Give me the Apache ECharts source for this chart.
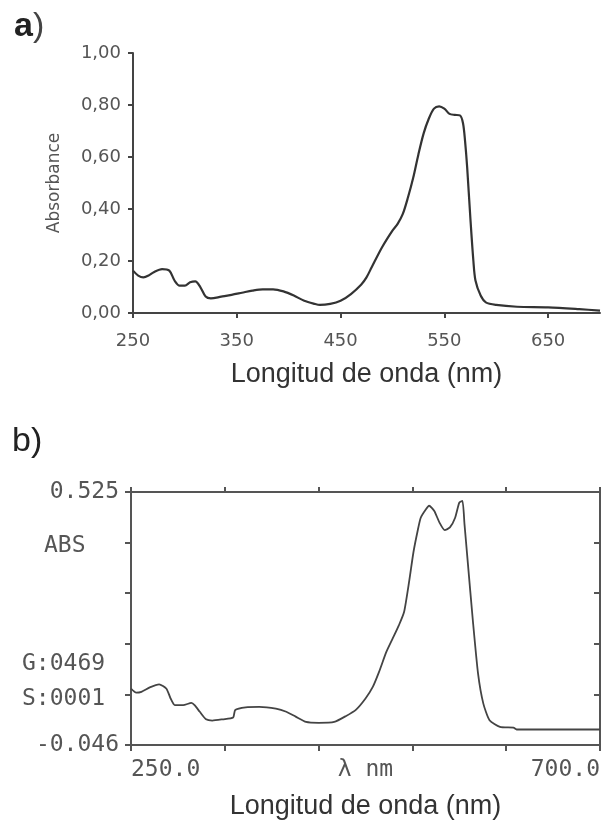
<!DOCTYPE html>
<html>
<head>
<meta charset="utf-8">
<script src="https://cdn.jsdelivr.net/npm/echarts@6/dist/echarts.min.js"></script>
<style>html,body{margin:0;padding:0;background:#fff;}#c{width:613px;height:822px;}</style>
</head>
<body>
<div id="c"></div>
<script>
// Panel a
var aWavelength = [250,255,260,265,270,278,285,290,295,300,305,310,315,320,325,335,345,355,365,375,385,395,405,415,425,430,440,450,460,470,475,480,490,500,505,510,515,520,525,530,535,540,545,550,555,560,565,568,570,572,575,578,580,585,590,600,620,650,680,700];
var aAbs = [0.163,0.144,0.137,0.144,0.157,0.169,0.163,0.125,0.105,0.105,0.118,0.122,0.099,0.063,0.056,0.063,0.07,0.078,0.086,0.091,0.091,0.083,0.067,0.047,0.035,0.031,0.035,0.047,0.073,0.11,0.137,0.176,0.253,0.317,0.343,0.381,0.445,0.52,0.61,0.69,0.747,0.786,0.795,0.786,0.766,0.762,0.76,0.73,0.66,0.56,0.37,0.2,0.125,0.067,0.041,0.031,0.024,0.022,0.015,0.009];
var aXTicks = [250,350,450,550,650];
var aYTicks = [0,0.2,0.4,0.6,0.8,1.0];
// Panel b
var bWavelength = [250,255,260,268,277,284,288,292,300,308,311,316,322,328,338,348,350,360,373,389,399,408,418,430,445,456,466,475,482,488,495,501,507,512,517,521,525,528,533,536,541,546,551,556,561,565,568,570,573,578,583,588,594,604,617,620,655,700];
var bAbs = [0.081,0.072,0.074,0.084,0.091,0.081,0.059,0.044,0.044,0.049,0.044,0.029,0.012,0.009,0.012,0.016,0.033,0.039,0.04,0.036,0.029,0.018,0.006,0.004,0.006,0.019,0.034,0.059,0.085,0.119,0.164,0.194,0.224,0.254,0.325,0.389,0.437,0.467,0.486,0.494,0.482,0.456,0.439,0.445,0.467,0.501,0.505,0.452,0.37,0.235,0.115,0.048,0.01,-0.005,-0.007,-0.011,-0.011,-0.011];
var bXTicks = [250,340,430,520,610,700];
var bXLabelValues = [250,475,700];
var bXLabelTexts = ['250.0','λ nm','700.0'];
var bYMin = -0.046, bYMax = 0.525;
var bYTicks = [-0.046,0.0682,0.1824,0.2966,0.4108,0.525];
var bYLabelValues = [-0.046,0.525];
var bYLabelTexts = ['-0.046','0.525'];
var bSideTexts = ['ABS','G:0469','S:0001'];

function pairs(x,y){return x.map(function(v,i){return [v,y[i]];});}
var mono = '"DejaVu Sans Mono", "Liberation Mono", monospace';
var sans = '"DejaVu Sans", sans-serif';
var lsans = '"Liberation Sans", Arial, sans-serif';

var chart = echarts.init(document.getElementById('c'));
chart.setOption({
  animation:false,
  backgroundColor:'#fff',
  grid:[
    {left:133, top:53, width:467, height:260},
    {left:131, top:492, width:469, height:253}
  ],
  xAxis:[
    {gridIndex:0, type:'value', min:250, max:700, splitLine:{show:false},
     axisLine:{onZero:false, lineStyle:{color:'#444', width:2}},
     axisTick:{customValues:aXTicks, length:5, lineStyle:{color:'#444', width:2}},
     axisLabel:{customValues:aXTicks, color:'#555', fontFamily:sans, fontSize:18, margin:19},
     name:'Longitud de onda (nm)', nameLocation:'middle', nameGap:48,
     nameTextStyle:{fontFamily:lsans, fontSize:27, color:'#333'}},
    {gridIndex:1, type:'value', min:250, max:700, splitLine:{show:false},
     axisLine:{onZero:false, lineStyle:{color:'#555', width:2}},
     axisTick:{customValues:bXTicks, length:6, lineStyle:{color:'#555', width:2}},
     axisLabel:{customValues:bXLabelValues, color:'#555', fontFamily:mono, fontSize:23, margin:14,
       alignMinLabel:'left', alignMaxLabel:'right',
       formatter:function(v){var i=bXLabelValues.indexOf(v);return i>=0?bXLabelTexts[i]:'';}},
     name:'Longitud de onda (nm)', nameLocation:'middle', nameGap:48,
     nameTextStyle:{fontFamily:lsans, fontSize:27, color:'#333'}},
    {gridIndex:1, type:'value', position:'top', min:250, max:700, splitLine:{show:false},
     axisLine:{onZero:false, lineStyle:{color:'#555', width:2}},
     axisTick:{customValues:bXTicks, length:5, lineStyle:{color:'#555', width:2}},
     axisLabel:{show:false}}
  ],
  yAxis:[
    {gridIndex:0, type:'value', min:0, max:1, interval:0.2, splitLine:{show:false},
     axisLine:{show:true, lineStyle:{color:'#444', width:2}},
     axisTick:{show:true, length:5, lineStyle:{color:'#444', width:2}},
     axisLabel:{color:'#555', fontFamily:sans, fontSize:18, margin:12,
       formatter:function(v){return v.toFixed(2).replace('.',',');}},
     name:'Absorbance', nameLocation:'middle', nameGap:70, nameRotate:90,
     nameTextStyle:{fontFamily:sans, fontSize:17, color:'#555'}},
    {gridIndex:1, type:'value', min:bYMin, max:bYMax, splitLine:{show:false},
     axisLine:{show:true, onZero:false, lineStyle:{color:'#555', width:2}},
     axisTick:{show:true, customValues:bYTicks, length:6, lineStyle:{color:'#555', width:2}},
     axisLabel:{customValues:bYLabelValues, color:'#555', fontFamily:mono, fontSize:23, margin:12,
       formatter:function(v){for(var i=0;i<bYLabelValues.length;i++){if(Math.abs(v-bYLabelValues[i])<1e-6)return bYLabelTexts[i];}return '';}}},
    {gridIndex:1, type:'value', position:'right', min:bYMin, max:bYMax, splitLine:{show:false},
     axisLine:{show:true, onZero:false, lineStyle:{color:'#555', width:2}},
     axisTick:{show:true, inside:true, customValues:bYTicks, length:6, lineStyle:{color:'#555', width:2}},
     axisLabel:{show:false}}
  ],
  graphic:[
    {type:'text', left:14, top:10, style:{text:'{b|a}{n|)}', rich:{b:{fontFamily:lsans, fontSize:34, fontWeight:'bold', fill:'#222'}, n:{fontFamily:lsans, fontSize:34, fill:'#444'}}}},
    {type:'text', left:12, top:425, style:{text:'b)', fontFamily:lsans, fontSize:34, fill:'#222'}},
    {type:'text', left:44, top:535, style:{text:bSideTexts[0], fontFamily:mono, fontSize:23, fill:'#555'}},
    {type:'text', left:22, top:653, style:{text:bSideTexts[1], fontFamily:mono, fontSize:23, fill:'#555'}},
    {type:'text', left:22, top:688, style:{text:bSideTexts[2], fontFamily:mono, fontSize:23, fill:'#555'}}
  ],
  series:[
    {type:'line', xAxisIndex:0, yAxisIndex:0, data:pairs(aWavelength,aAbs), showSymbol:false, smooth:0.3,
     lineStyle:{color:'#333', width:2.2}},
    {type:'line', xAxisIndex:1, yAxisIndex:1, data:pairs(bWavelength,bAbs), showSymbol:false, smooth:0.2,
     lineStyle:{color:'#444', width:1.8}}
  ]
});
</script>
</body>
</html>
